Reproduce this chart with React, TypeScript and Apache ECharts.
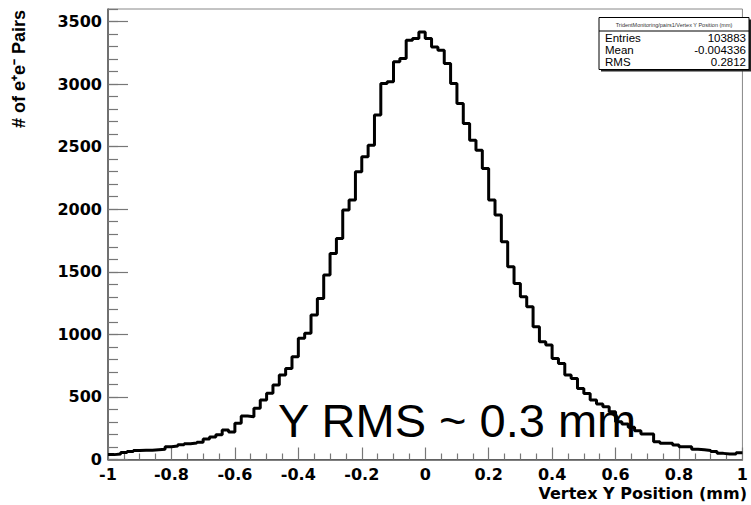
import React, { useEffect, useRef } from "react";
import * as echarts from "echarts";

// Histogram: 100 bins from -1 to 1 mm (bin width 0.02)
const X_MIN = -1;
const X_MAX = 1;
const BIN_WIDTH = 0.02;

const countsLeftTail = [39, 44, 55, 63, 71, 73, 73, 77, 81, 102, 107, 118, 126, 131, 137, 164, 180, 198, 236, 220, 289, 347];
const countsRising = [342, 409, 475, 529, 595, 675, 728, 821, 968, 1008, 1154, 1287, 1474, 1647, 1767, 1993, 2073, 2299];
const countsPeak = [2419, 2512, 2752, 3005, 3018, 3178, 3204, 3351, 3364, 3417, 3364, 3297, 3271, 3164, 3004, 2845, 2685, 2552, 2472, 2325];
const countsFalling = [2073, 1953, 1740, 1540, 1407, 1300, 1221, 1061, 941, 915, 808, 768, 675, 648, 568, 528, 475, 443, 422, 382];
const countsRightTail = [302, 284, 257, 230, 204, 204, 142, 129, 129, 116, 102, 102, 81, 77, 72, 63, 49, 44, 44, 54];

const counts = [...countsLeftTail, ...countsRising, ...countsPeak, ...countsFalling, ...countsRightTail];

const statsTitle = "TridentMonitoring/pairs1/Vertex Y Position (mm)";
const statsLabels = ["Entries", "Mean", "RMS"];
const statsValues = ["103883", "-0.004336", "0.2812"];

const xTitle = "Vertex Y Position (mm)";
const yTitle = "# of e\u207Ae\u207B Pairs";
const annotation = "Y RMS ~ 0.3 mm";

export default function App() {
  const ref = useRef<HTMLDivElement>(null);

  useEffect(() => {
    if (!ref.current) return;
    const chart = echarts.init(ref.current, null, { renderer: "svg" });

    const data: [number, number][] = counts.map((c, i) => [X_MIN + i * BIN_WIDTH, c]);
    data.push([X_MAX, counts[counts.length - 1]]);

    const labelFont = {
      fontFamily: "DejaVu Sans",
      fontWeight: "bold" as const,
      fontSize: 16,
      color: "#000",
    };

    const statsRows: any[] = [];
    statsLabels.forEach((lab, i) => {
      const y = 38 + i * 12;
      statsRows.push({
        type: "text",
        x: 605,
        y,
        style: { text: lab, fontFamily: "Liberation Sans", fontSize: 11.5, fill: "#000", textVerticalAlign: "middle", textAlign: "left" },
      });
      statsRows.push({
        type: "text",
        x: 746,
        y,
        style: { text: statsValues[i], fontFamily: "Liberation Sans", fontSize: 11.5, fill: "#000", textVerticalAlign: "middle", textAlign: "right" },
      });
    });

    chart.setOption({
      animation: false,
      backgroundColor: "#fff",
      grid: {
        left: 108,
        top: 9,
        right: 0,
        bottom: 45.5,
        show: true,
        borderColor: "#888",
        borderWidth: 1,
        containLabel: false,
      },
      xAxis: {
        type: "value",
        min: X_MIN,
        max: X_MAX,
        interval: 0.2,
        axisLine: { show: true, onZero: false, lineStyle: { color: "#555", width: 1.5 } },
        axisTick: { show: true, inside: true, length: 12, lineStyle: { color: "#777", width: 1.2 } },
        minorTick: { show: true, splitNumber: 4, length: 6, lineStyle: { color: "#777", width: 1.2 } },
        splitLine: { show: false },
        axisLabel: {
          ...labelFont,
          margin: 7,
          formatter: (v: number) => String(Math.round(v * 10) / 10),
        },
      },
      yAxis: [
        {
          type: "value",
          min: 0,
          max: 3600,
          interval: 500,
          axisLine: { show: true, onZero: false, lineStyle: { color: "#555", width: 1.5 } },
          axisTick: { show: true, inside: true, length: 20, lineStyle: { color: "#777", width: 1.2 } },
          splitLine: { show: false },
          axisLabel: { ...labelFont, margin: 6, showMaxLabel: false, formatter: (v: number) => String(v) },
        },
        {
          type: "value",
          min: 0,
          max: 3600,
          interval: 100,
          position: "left",
          axisLine: { show: false, onZero: false },
          axisTick: { show: true, inside: true, length: 10, lineStyle: { color: "#777", width: 1.2 } },
          splitLine: { show: false },
          axisLabel: { show: false },
        },
      ],
      series: [
        {
          type: "line",
          step: "end",
          data,
          xAxisIndex: 0,
          yAxisIndex: 0,
          showSymbol: false,
          symbol: "none",
          lineStyle: { color: "#000", width: 3 },
          clip: true,
        },
      ],
      graphic: [
        {
          type: "text",
          x: 18.5,
          y: 10,
          rotation: Math.PI / 2,
          style: {
            text: yTitle,
            fontFamily: "Liberation Sans",
            fontWeight: "bold",
            fontSize: 18,
            fill: "#000",
            textAlign: "right",
            textVerticalAlign: "middle",
          },
        },
        {
          type: "text",
          x: 747,
          y: 493,
          style: {
            text: xTitle,
            ...labelFont,
            fill: "#000",
            textAlign: "right",
            textVerticalAlign: "middle",
          },
        },
        {
          type: "text",
          x: 278,
          y: 420,
          style: {
            text: annotation,
            fontFamily: "Liberation Sans",
            fontSize: 47,
            fill: "#000",
            textAlign: "left",
            textVerticalAlign: "middle",
          },
        },
        {
          type: "rect",
          shape: { x: 601, y: 19.5, width: 150, height: 52 },
          style: { fill: "#222" },
        },
        {
          type: "rect",
          shape: { x: 599, y: 17.5, width: 150, height: 52 },
          style: { fill: "#fff", stroke: "#000", lineWidth: 1 },
        },
        {
          type: "line",
          shape: { x1: 599, y1: 31, x2: 749, y2: 31 },
          style: { stroke: "#000", lineWidth: 1 },
        },
        {
          type: "text",
          x: 674,
          y: 24.5,
          style: {
            text: statsTitle,
            fontFamily: "Liberation Sans",
            fontSize: 5.5,
            fill: "#333",
            textAlign: "center",
            textVerticalAlign: "middle",
          },
        },
        ...statsRows,
      ],
    });

    return () => chart.dispose();
  }, []);

  return (
    <div
      ref={ref}
      style={{ position: "fixed", left: 0, top: 0, width: 751, height: 505 }}
    />
  );
}
